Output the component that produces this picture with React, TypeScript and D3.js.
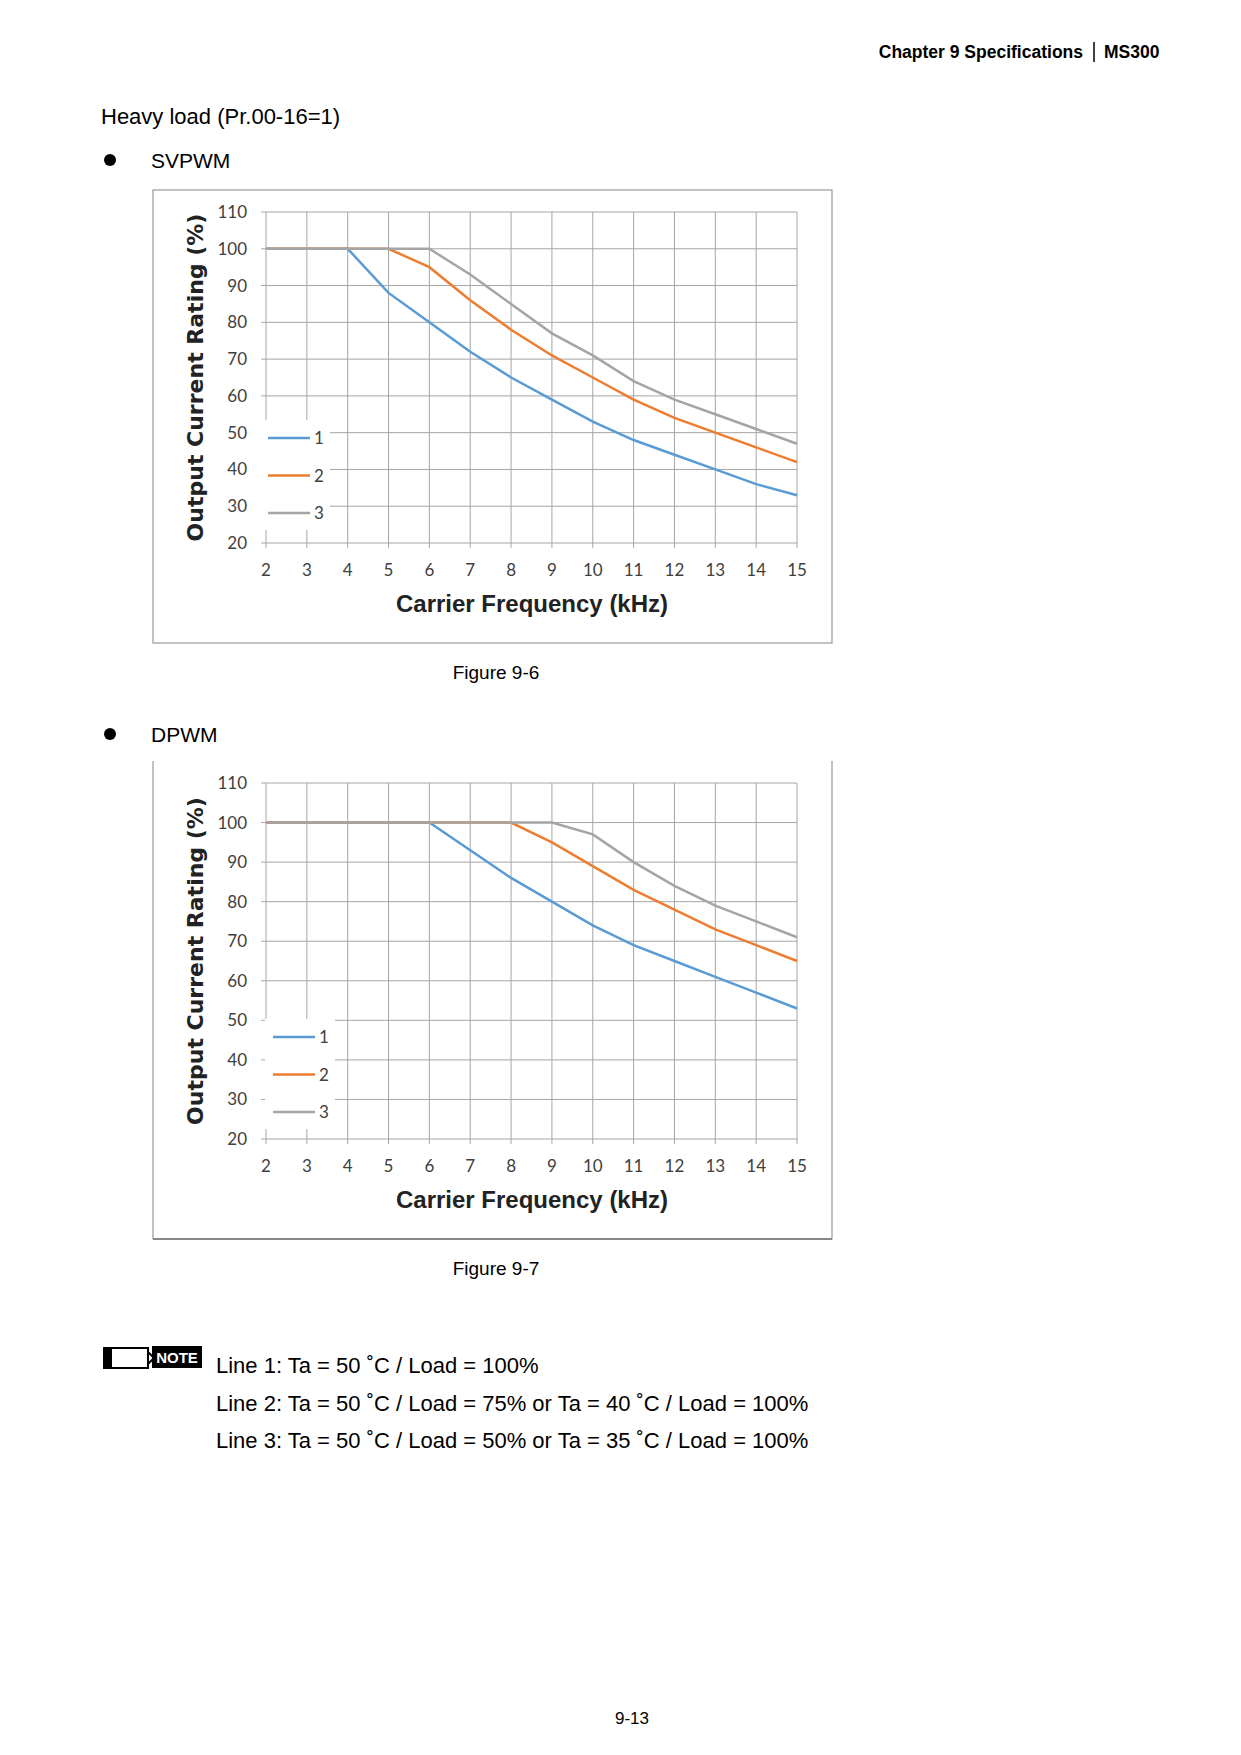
import React from "react";
import * as d3 from "d3";

const freqs = [2, 3, 4, 5, 6, 7, 8, 9, 10, 11, 12, 13, 14, 15];
const yTicks = [20, 30, 40, 50, 60, 70, 80, 90, 100, 110];
const sv1 = [100, 100, 100, 88, 80, 72, 65, 59, 53, 48, 44, 40, 36, 33];
const sv2 = [100, 100, 100, 100, 95, 86, 78, 71, 65, 59, 54, 50, 46, 42];
const sv3 = [100, 100, 100, 100, 100, 93, 85, 77, 71, 64, 59, 55, 51, 47];
const dp1 = [100, 100, 100, 100, 100, 93, 86, 80, 74, 69, 65, 61, 57, 53];
const dp2 = [100, 100, 100, 100, 100, 100, 100, 95, 89, 83, 78, 73, 69, 65];
const dp3 = [100, 100, 100, 100, 100, 100, 100, 100, 97, 90, 84, 79, 75, 71];
const colors = ["#5b9bd5", "#ed7d31", "#a5a5a5"];
const seriesNames = ["1", "2", "3"];

const SANS = "'Liberation Sans', Arial, sans-serif";
const TICK = "Lato, 'Open Sans', sans-serif";

function Chart({ top, plotTop, plotBottom, series, legendY, legendX, openTop, title }: any) {
  const x = d3.scaleLinear().domain([2, 15]).range([266, 797]);
  const y = d3.scaleLinear().domain([20, 110]).range([plotBottom, plotTop]);
  const line = d3.line<number>().x((_, i) => x(freqs[i])).y((v) => y(v));
  const boxBottom = plotBottom + 100;
  return (
    <g>
      {openTop ? (
        <path d={`M153,${top} V${boxBottom} H832 V${top}`} fill="none" stroke="#999" strokeWidth={1.2} />
      ) : (
        <rect x={153} y={top} width={679} height={boxBottom - top} fill="none" stroke="#999" strokeWidth={1.2} />
      )}
      {openTop && <line x1={153} x2={832} y1={boxBottom} y2={boxBottom} stroke="#888" strokeWidth={2} />}
      {yTicks.map((t) => (
        <line key={"h" + t} x1={x(2)} x2={x(15)} y1={y(t)} y2={y(t)} stroke="#a6a6a6" strokeWidth={1} />
      ))}
      {freqs.map((f) => (
        <line key={"v" + f} x1={x(f)} x2={x(f)} y1={y(110)} y2={y(20)} stroke="#a6a6a6" strokeWidth={1} />
      ))}
      {yTicks.map((t) => (
        <line key={"yt" + t} x1={x(2) - 5} x2={x(2)} y1={y(t)} y2={y(t)} stroke="#a6a6a6" />
      ))}
      {freqs.map((f) => (
        <line key={"xt" + f} x1={x(f)} x2={x(f)} y1={y(20)} y2={y(20) + 5} stroke="#a6a6a6" />
      ))}
      {yTicks.map((t) => (
        <text key={"yl" + t} x={247} y={y(t) + 6} textAnchor="end" fontFamily={TICK} fontSize={17} fill="#404040">{t}</text>
      ))}
      {freqs.map((f) => (
        <text key={"xl" + f} x={x(f)} y={y(20) + 33} textAnchor="middle" fontFamily={TICK} fontSize={17} fill="#404040">{f}</text>
      ))}
      <rect x={legendX - 8} y={legendY - 18} width={70} height={110} fill="#fff" />
      {series.map((s: number[], i: number) => (
        <path key={"s" + i} d={line(s) || ""} fill="none" stroke={colors[i]} strokeWidth={2.5} />
      ))}
      {seriesNames.map((n, i) => (
        <g key={"lg" + n}>
          <line x1={legendX} x2={legendX + 42} y1={legendY + i * 37.5} y2={legendY + i * 37.5} stroke={colors[i]} strokeWidth={2.5} />
          <text x={legendX + 46} y={legendY + i * 37.5 + 6} fontFamily={TICK} fontSize={17} fill="#404040">{n}</text>
        </g>
      ))}
      <text transform={`translate(203,${(plotTop + plotBottom) / 2}) rotate(-90)`} textAnchor="middle" fontFamily="'DejaVu Sans', Verdana, sans-serif" fontWeight="bold" fontSize={22} fill="#222">Output Current Rating (%)</text>
      <text x={532} y={plotBottom + 69} textAnchor="middle" fontFamily={SANS} fontWeight="bold" fontSize={24} fill="#222">Carrier Frequency (kHz)</text>
      <text x={496} y={boxBottom + 36} textAnchor="middle" fontFamily={SANS} fontSize={19} fill="#000">{title}</text>
    </g>
  );
}

export default function App() {
  return (
    <svg width={1241} height={1755} style={{ position: "absolute", left: 0, top: 0, background: "#fff" }}>
      <rect width={1241} height={1755} fill="#fff" />
      <text x={1083} y={58} textAnchor="end" fontFamily={SANS} fontWeight="bold" fontSize={17.5}>Chapter 9 Specifications</text>
      <line x1={1094} x2={1094} y1={42} y2={62} stroke="#000" strokeWidth={1.5} />
      <text x={1104} y={58} fontFamily={SANS} fontWeight="bold" fontSize={17.5}>MS300</text>
      <text x={101} y={124} fontFamily={SANS} fontSize={22}>Heavy load (Pr.00-16=1)</text>
      <circle cx={110} cy={160} r={6} fill="#000" />
      <text x={151} y={168} fontFamily={SANS} fontSize={21}>SVPWM</text>
      <Chart top={190} plotTop={212} plotBottom={543} series={[sv1, sv2, sv3]} legendX={268} legendY={438} openTop={false} title="Figure 9-6" />
      <circle cx={110} cy={734} r={6} fill="#000" />
      <text x={151} y={742} fontFamily={SANS} fontSize={21}>DPWM</text>
      <Chart top={761} plotTop={783} plotBottom={1139} series={[dp1, dp2, dp3]} legendX={273} legendY={1037} openTop={true} title="Figure 9-7" />
      <g>
        <rect x={104} y={1348} width={44} height={20} fill="#fff" stroke="#000" strokeWidth={2} />
        <rect x={104} y={1348} width={8} height={20} fill="#000" />
        <path d="M148,1352 L154,1358 L148,1364" fill="none" stroke="#000" strokeWidth={2} />
        <rect x={152} y={1346} width={50} height={22} fill="#000" />
        <text x={177} y={1363} textAnchor="middle" fontFamily={SANS} fontWeight="bold" fontSize={15} fill="#fff">NOTE</text>
      </g>
      <text x={216} y={1373} fontFamily={SANS} fontSize={22}>Line 1: Ta = 50 ˚C / Load = 100%</text>
      <text x={216} y={1411} fontFamily={SANS} fontSize={22}>Line 2: Ta = 50 ˚C / Load = 75% or Ta = 40 ˚C / Load = 100%</text>
      <text x={216} y={1448} fontFamily={SANS} fontSize={22}>Line 3: Ta = 50 ˚C / Load = 50% or Ta = 35 ˚C / Load = 100%</text>
      <text x={632} y={1724} textAnchor="middle" fontFamily={SANS} fontSize={17}>9-13</text>
    </svg>
  );
}
